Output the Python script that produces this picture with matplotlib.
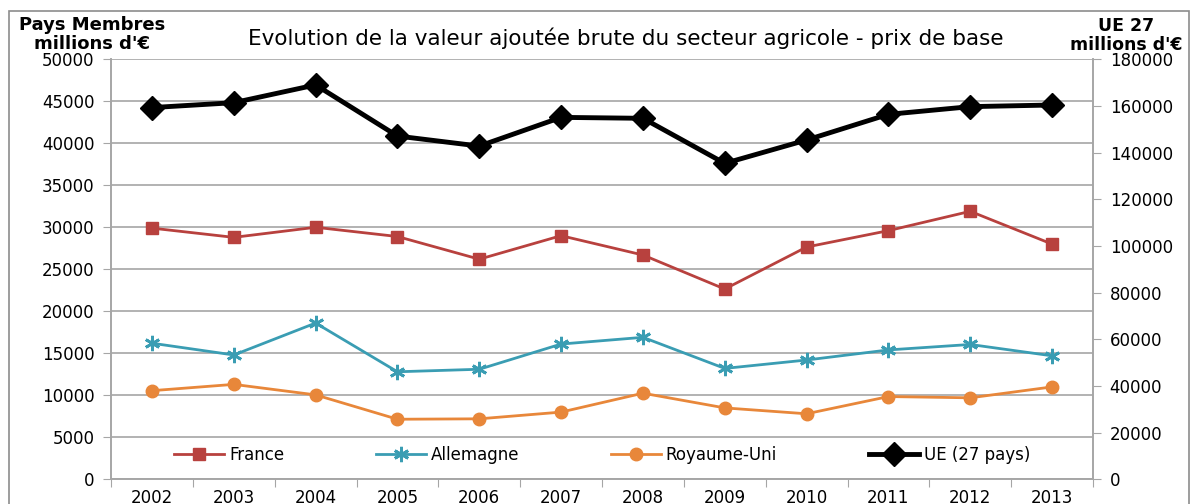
import matplotlib
matplotlib.use("Agg")
import matplotlib.pyplot as plt
from matplotlib.patches import Rectangle

years = ["2002", "2003", "2004", "2005", "2006", "2007", "2008", "2009", "2010", "2011", "2012", "2013"]
france = [29900, 28800, 30000, 28900, 26200, 29000, 26700, 22650, 27650, 29600, 31900, 28000]
allemagne = [16200, 14800, 18600, 12800, 13100, 16100, 16900, 13200, 14200, 15400, 16050, 14700]
royaume_uni = [10550, 11300, 10050, 7150, 7200, 8000, 10250, 8500, 7800, 9850, 9700, 11000]
ue27 = [159300, 161400, 169000, 147100, 142800, 155100, 154700, 135400, 145400, 156400, 159700, 160400]

left_ticks = list(range(0, 50001, 5000))
right_ticks = list(range(0, 180001, 20000))

plt.rcParams['font.family'] = ['DejaVu Sans']

fig = plt.figure(figsize=(11.94, 5.04), dpi=100)
fig.patches.append(Rectangle((9 / 1194, -0.1), 1180 / 1194, 1 - 11 / 504 + 0.1,
                             transform=fig.transFigure, fill=False,
                             edgecolor='#8c8c8c', linewidth=1.2))

ax = fig.add_axes([0.093, 0.049, 0.8224, 0.8334])
ax2 = ax.twinx()

x = list(range(len(years)))
grid_c = '#a6a6a6'

ax.set_ylim(0, 50000)
ax.set_yticks(left_ticks)
ax.set_yticklabels([str(t) for t in left_ticks], fontsize=12)
ax.yaxis.grid(True, color=grid_c, linewidth=1.2)
ax.set_axisbelow(True)
ax.set_xlim(-0.5, len(years) - 0.5)
ax.set_xticks([i - 0.5 for i in range(len(years) + 1)])
ax.set_xticklabels([])
ax.set_xticks(x, minor=True)
ax.set_xticklabels(years, minor=True, fontsize=12)
ax.tick_params(axis='x', which='minor', length=0, pad=7)
ax.tick_params(axis='x', which='major', length=6, color=grid_c)
ax.tick_params(axis='y', length=6, color=grid_c, pad=6)

for a in (ax, ax2):
    a.spines['top'].set_visible(False)
    for s in ['left', 'right', 'bottom']:
        a.spines[s].set_color(grid_c)
        a.spines[s].set_linewidth(1.2)

l1, = ax.plot(x, france, color='#b8413e', lw=2, marker='s', ms=9, label='France')
l2, = ax.plot(x, allemagne, color='#3a9db3', lw=2, marker=(6, 2, 0), ms=11,
              mew=2, label='Allemagne')
l3, = ax.plot(x, royaume_uni, color='#e8873a', lw=2, marker='o', ms=9, label='Royaume-Uni')

ax2.set_ylim(0, 180000)
ax2.set_yticks(right_ticks)
ax2.set_yticklabels([str(t) for t in right_ticks], fontsize=12)
ax2.tick_params(axis='y', length=6, color=grid_c, pad=6)
l4, = ax2.plot(x, ue27, color='black', lw=3.5, marker='D', ms=12, label='UE (27 pays)')

ax2.legend(handles=[l1, l2, l3, l4], loc='lower center', ncol=4, frameon=False,
           fontsize=12, bbox_to_anchor=(0.5, 0.0), columnspacing=5.5,
           handlelength=3, handletextpad=0.3)

fig.text(0.524, 0.925, "Evolution de la valeur ajoutée brute du secteur agricole - prix de base",
         ha='center', va='center', fontsize=15.5)
fig.text(0.077, 0.932, "Pays Membres\nmillions d'€", ha='center', va='center',
         fontsize=13, fontweight='bold', linespacing=1.1)
fig.text(0.943, 0.93, "UE 27\nmillions d'€", ha='center', va='center',
         fontsize=12.5, fontweight='bold', linespacing=1.1)

fig.savefig('out.png', dpi=100)
